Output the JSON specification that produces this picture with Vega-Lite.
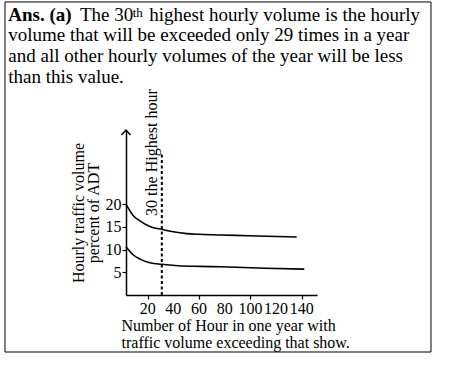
{
  "$schema": "https://vega.github.io/schema/vega-lite/v6.json",
  "width": 191,
  "height": 165,
  "autosize": {"type": "none"},
  "padding": {"left": 126, "top": 130, "right": 138, "bottom": 83},
  "background": "white",
  "config": {"view": {"stroke": null}, "font": "Liberation Serif", "axis": {"labelOverlap": false, "labelFlush": false, "labelBound": false}},
  "datasets": {
    "curves": [
      {"s": "upper", "h": 3.1, "p": 20.0},
      {"s": "upper", "h": 8.8, "p": 17.45},
      {"s": "upper", "h": 14.0, "p": 16.3},
      {"s": "upper", "h": 19.2, "p": 15.4},
      {"s": "upper", "h": 24.4, "p": 14.8},
      {"s": "upper", "h": 30.9, "p": 14.45},
      {"s": "upper", "h": 39.9, "p": 13.9},
      {"s": "upper", "h": 50.4, "p": 13.5},
      {"s": "upper", "h": 60.7, "p": 13.35},
      {"s": "upper", "h": 76.3, "p": 13.2},
      {"s": "upper", "h": 98.4, "p": 13.05},
      {"s": "upper", "h": 136.1, "p": 12.76},
      {"s": "lower", "h": 3.1, "p": 10.6},
      {"s": "lower", "h": 8.8, "p": 8.8},
      {"s": "lower", "h": 14.0, "p": 7.9},
      {"s": "lower", "h": 21.8, "p": 7.1},
      {"s": "lower", "h": 30.9, "p": 6.75},
      {"s": "lower", "h": 43.8, "p": 6.45},
      {"s": "lower", "h": 60.7, "p": 6.3},
      {"s": "lower", "h": 76.3, "p": 6.2},
      {"s": "lower", "h": 111.4, "p": 5.9},
      {"s": "lower", "h": 142.0, "p": 5.7}
    ],
    "xticks": [{"h": 20}, {"h": 40}, {"h": 60}, {"h": 80}, {"h": 100}, {"h": 120}, {"h": 140}]
  },
  "layer": [
    {
      "data": {"name": "curves"},
      "mark": {"type": "line", "interpolate": "monotone", "stroke": "black", "strokeWidth": 1.6},
      "encoding": {
        "x": {
          "field": "h", "type": "quantitative",
          "scale": {"domain": [3.1, 151.9], "nice": false, "zero": false},
          "axis": {
            "values": [20, 40, 60, 80, 100, 120, 140],
            "grid": false,
            "domainColor": "black", "domainWidth": 1.5,
            "tickColor": "black", "tickSize": 4, "tickWidth": 1.2,
            "labels": false,
            "title": ["Number of Hour in one year with", " traffic volume exceeding that show."],
            "titleFont": "Liberation Serif", "titleFontSize": 16, "titleFontWeight": "normal", "titleColor": "black",
            "titleAnchor": "start", "titleAlign": "left", "titleBaseline": "alphabetic",
            "titleX": -5, "titleY": 35, "titleLineHeight": 17
          }
        },
        "y": {
          "field": "p", "type": "quantitative",
          "scale": {"domain": [0, 36.3], "nice": false, "zero": false},
          "axis": {
            "values": [5, 10, 15, 20],
            "grid": false,
            "domainColor": "black", "domainWidth": 1.5,
            "tickColor": "black", "tickSize": 4, "tickWidth": 1.2,
            "labelFont": "Liberation Serif", "labelFontSize": 16, "labelColor": "black", "labelPadding": 1,
            "labelOverlap": false, "labelFlush": false,
            "title": ["Hourly traffic volume", "percent of ADT"],
            "titleFont": "Liberation Serif", "titleFontSize": 16, "titleFontWeight": "normal", "titleColor": "black",
            "titleBaseline": "alphabetic", "titleX": -42.7, "titleLineHeight": 15
          }
        },
        "detail": {"field": "s"}
      }
    },
    {
      "data": {"name": "xticks"},
      "mark": {"type": "text", "align": "center", "baseline": "top", "dy": 6, "font": "Liberation Serif", "fontSize": 16, "color": "black"},
      "encoding": {
        "x": {"field": "h", "type": "quantitative"},
        "y": {"datum": 0, "type": "quantitative"},
        "text": {"field": "h", "type": "quantitative"}
      }
    },
    {
      "data": {"values": [{"label": "border"}]},
      "mark": {"type": "rect", "filled": false, "stroke": "black", "strokeWidth": 1},
      "encoding": {
        "x": {"datum": -91.17, "type": "quantitative"},
        "x2": {"datum": 240.7},
        "y": {"datum": 64.47, "type": "quantitative"},
        "y2": {"datum": -12.54}
      }
    },
    {
      "data": {"values": [{"h": 31}]},
      "mark": {"type": "rule", "stroke": "black", "strokeWidth": 2, "strokeDash": [3, 2.5]},
      "encoding": {
        "x": {"field": "h", "type": "quantitative"},
        "y": {"datum": 0, "type": "quantitative"},
        "y2": {"datum": 31.2}
      }
    },
    {
      "data": {"values": [{"h": 3.1, "p": 36.3}]},
      "mark": {"type": "point", "shape": "M-1,1.1L0,0L1,1.1", "size": 81, "filled": false, "stroke": "black", "strokeWidth": 1.5, "opacity": 1},
      "encoding": {
        "x": {"field": "h", "type": "quantitative"},
        "y": {"field": "p", "type": "quantitative"}
      }
    },
    {
      "data": {"values": [{"t": "30 the Highest hour"}]},
      "mark": {"type": "text", "angle": 270, "align": "left", "baseline": "alphabetic", "font": "Liberation Serif", "fontSize": 16, "color": "black"},
      "encoding": {
        "x": {"datum": 27.25, "type": "quantitative"},
        "y": {"datum": 17.4, "type": "quantitative"},
        "text": {"field": "t"}
      }
    },
    {
      "data": {"values": [{"t": "Ans. (a)"}]},
      "mark": {"type": "text", "align": "left", "baseline": "alphabetic", "font": "Liberation Serif", "fontSize": 19, "fontWeight": "bold", "color": "black"},
      "encoding": {
        "x": {"datum": -88.6, "type": "quantitative"},
        "y": {"datum": 60.35, "type": "quantitative"},
        "text": {"field": "t"}
      }
    },
    {
      "data": {"values": [{"t": "The 30"}]},
      "mark": {"type": "text", "align": "left", "baseline": "alphabetic", "font": "Liberation Serif", "fontSize": 19, "color": "black"},
      "encoding": {
        "x": {"datum": -32.74, "type": "quantitative"},
        "y": {"datum": 60.35, "type": "quantitative"},
        "text": {"field": "t"}
      }
    },
    {
      "data": {"values": [{"t": "th"}]},
      "mark": {"type": "text", "align": "left", "baseline": "alphabetic", "font": "Liberation Serif", "fontSize": 13, "color": "black"},
      "encoding": {
        "x": {"datum": 8.32, "type": "quantitative"},
        "y": {"datum": 61.2, "type": "quantitative"},
        "text": {"field": "t"}
      }
    },
    {
      "data": {"values": [{"t": "highest hourly volume is the hourly"}]},
      "mark": {"type": "text", "align": "left", "baseline": "alphabetic", "font": "Liberation Serif", "fontSize": 19, "color": "black"},
      "encoding": {
        "x": {"datum": 21.25, "type": "quantitative"},
        "y": {"datum": 60.35, "type": "quantitative"},
        "text": {"field": "t"}
      }
    },
    {
      "data": {"values": [{"t": "volume that will be exceeded only 29 times in a year"}]},
      "mark": {"type": "text", "align": "left", "baseline": "alphabetic", "font": "Liberation Serif", "fontSize": 19, "color": "black"},
      "encoding": {
        "x": {"datum": -88.6, "type": "quantitative"},
        "y": {"datum": 55.78, "type": "quantitative"},
        "text": {"field": "t"}
      }
    },
    {
      "data": {"values": [{"t": "and all other hourly volumes of the year will be less"}]},
      "mark": {"type": "text", "align": "left", "baseline": "alphabetic", "font": "Liberation Serif", "fontSize": 19, "color": "black"},
      "encoding": {
        "x": {"datum": -88.6, "type": "quantitative"},
        "y": {"datum": 51.2, "type": "quantitative"},
        "text": {"field": "t"}
      }
    },
    {
      "data": {"values": [{"t": "than this value."}]},
      "mark": {"type": "text", "align": "left", "baseline": "alphabetic", "font": "Liberation Serif", "fontSize": 19, "color": "black"},
      "encoding": {
        "x": {"datum": -88.6, "type": "quantitative"},
        "y": {"datum": 46.62, "type": "quantitative"},
        "text": {"field": "t"}
      }
    }
  ]
}
